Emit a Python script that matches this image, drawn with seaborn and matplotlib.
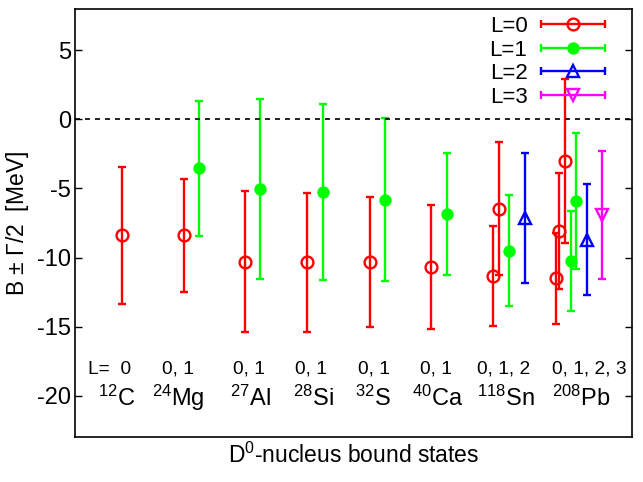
import numpy as np
import matplotlib
matplotlib.use("Agg")
import matplotlib.pyplot as plt
from matplotlib.legend_handler import HandlerBase
from matplotlib.lines import Line2D
import seaborn as sns

# bound states per orbital angular momentum L: position, B, Gamma/2
x_L0 = [0.84, 1.95, 3.06, 4.17, 5.29, 6.40, 7.50, 7.61, 8.63, 8.70, 8.80]
B_L0 = [-8.4, -8.4, -10.3, -10.35, -10.35, -10.7, -11.35, -6.45, -11.5, -8.1, -3.0]
G_L0 = [4.95, 4.1, 5.1, 5.05, 4.7, 4.5, 3.6, 4.85, 3.3, 4.2, 5.95]

x_L1 = [2.23, 3.33, 4.46, 5.57, 6.68, 7.80, 8.90, 8.99]
B_L1 = [-3.55, -5.05, -5.25, -5.8, -6.85, -9.5, -10.25, -5.9]
G_L1 = [4.9, 6.5, 6.4, 5.9, 4.45, 4.0, 3.6, 4.9]

x_L2 = [8.08, 9.19]
B_L2 = [-7.15, -8.7]
G_L2 = [4.7, 4.05]

x_L3 = [9.46]
B_L3 = [-6.9]
G_L3 = [4.65]

# nucleus labels
nuclei = [r"$^{12}$C", r"$^{24}$Mg", r"$^{27}$Al", r"$^{28}$Si",
          r"$^{32}$S", r"$^{40}$Ca", r"$^{118}$Sn", r"$^{208}$Pb"]
nuc_x = [0.41, 1.38, 2.78, 3.91, 5.03, 6.05, 7.22, 8.56]
L_text = ["L=  0", "0, 1", "0, 1", "0, 1", "0, 1", "0, 1", "0, 1, 2", "0, 1, 2, 3"]
L_text_x = [0.23, 1.56, 2.84, 3.95, 5.08, 6.19, 7.22, 8.56]

sns.set_style("ticks")
plt.rcParams["font.family"] = ["Liberation Sans", "DejaVu Sans"]
plt.rcParams["mathtext.fontset"] = "custom"
plt.rcParams["mathtext.rm"] = "Liberation Sans"
plt.rcParams["mathtext.it"] = "Liberation Sans:italic"
plt.rcParams["axes.unicode_minus"] = False
for k in ["text.color", "axes.labelcolor", "xtick.color", "ytick.color"]:
    plt.rcParams[k] = "black"

fig = plt.figure(figsize=(6.43, 4.82), dpi=100)
ax = fig.add_axes([0.1166, 0.0934, 0.866, 0.8879])

series = [
    ("L=0", x_L0, B_L0, G_L0, "#ff0000", "o", "none", 8.5),
    ("L=1", x_L1, B_L1, G_L1, "#00ff00", "o", "#00ff00", 7.2),
    ("L=2", x_L2, B_L2, G_L2, "#0000ff", "^", "none", 8.5),
    ("L=3", x_L3, B_L3, G_L3, "#ff00ff", "v", "none", 8.5),
]

handles = []
for name, xs, bs, gs, col, mk, fc, ms in series:
    ax.errorbar(xs, bs, yerr=gs, fmt=mk, color=col, mfc=fc, mec=col,
                ms=ms, mew=1.7, elinewidth=1.7, capsize=2.6, capthick=1.7)
    handles.append(Line2D([], [], color=col, marker=mk, mfc=fc, mec=col,
                          ms=ms, mew=1.7, lw=1.7, label=name))


class HorizontalBar(HandlerBase):
    def create_artists(self, legend, orig, xd, yd, w, h, fs, trans):
        y = h / 2 - yd
        col = orig.get_color()
        bar = Line2D([-xd, w - xd], [y, y], color=col, lw=1.7,
                     marker="|", ms=6, mew=1.7, transform=trans)
        pt = Line2D([(w - xd) / 2 - xd / 2], [y], color=col,
                    marker=orig.get_marker(), mfc=orig.get_markerfacecolor(),
                    mec=col, ms=orig.get_markersize(), mew=1.7,
                    transform=trans)
        return [bar, pt]


ax.axhline(0, color="black", ls=(0, (3, 3)), lw=1.2)

for t, xx in zip(L_text, L_text_x):
    ax.text(xx, -18.1, t, fontsize=13.8, ha="left", va="center")
for t, xx in zip(nuclei, nuc_x):
    ax.text(xx, -20.2, t, fontsize=17, ha="left", va="center")

ax.set_xlim(0, 10)
ax.set_ylim(-23, 8)
ax.set_yticks([5, 0, -5, -10, -15, -20])
ax.set_xticks([])
ax.tick_params(axis="y", direction="in", length=5, right=True,
               labelsize=17, width=1, pad=3)
for s in ax.spines.values():
    s.set_linewidth(1.2)
    s.set_color("black")

ax.set_ylabel(r"B $\pm$ Γ/2  [MeV]", fontsize=16.5, labelpad=4)
ax.set_xlabel(r"D$^0$-nucleus bound states", fontsize=16.5)

ax.legend(handles=handles, handler_map={Line2D: HorizontalBar()},
          loc="upper right", bbox_to_anchor=(0.9515, 0.984),
          frameon=False, markerfirst=False, borderpad=0, borderaxespad=0,
          fontsize=16, handlelength=2.86, labelspacing=0.12,
          handletextpad=0.62)

fig.savefig("out.png", dpi=100)
